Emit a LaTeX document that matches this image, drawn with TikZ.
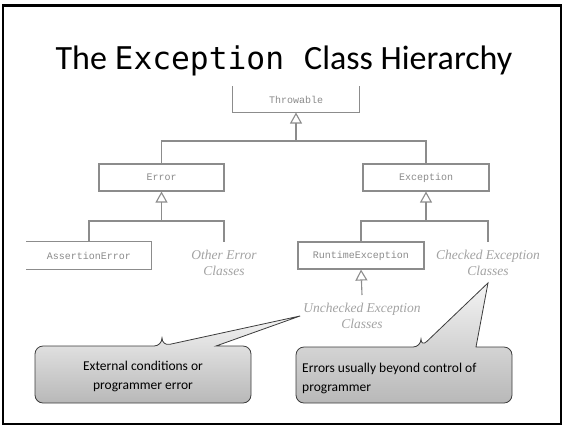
\documentclass[tikz,border=0pt]{standalone}
\usepackage{fontspec}
\setmainfont{Carlito}
\newfontfamily\codefont[Scale=0.92]{DejaVu Sans Mono}
\newfontfamily\labelfont{Liberation Mono}
\newfontfamily\classfont{Liberation Serif}
\usetikzlibrary{arrows.meta}

\begin{document}
\begin{tikzpicture}[x=1pt, y=-1pt,
  classbox/.style={draw=linegray, line width=1.1pt, minimum width=126pt, minimum height=27pt, inner sep=0pt, text=labelgray, font=\labelfont\fontsize{10}{12}\selectfont},
  openbox/.style={classbox, draw=none},
  groupname/.style={align=center, inner xsep=2pt, inner ysep=8pt, text=namegray, font=\classfont\itshape\fontsize{13.5}{16}\selectfont},
  tree/.style={draw=linegray, line width=1.1pt},
  inherit/.style={tree, -{Triangle[open, length=11pt, width=12pt, line width=1.1pt]}},
  note/.style={draw=notegray, line width=0.8pt, top color=notetop, bottom color=notebottom},
  notetext/.style={font=\fontsize{13.5}{19}\selectfont, inner sep=0pt}]
\definecolor{linegray}{HTML}{8C8C8C}
\definecolor{labelgray}{HTML}{8A8A8A}
\definecolor{namegray}{HTML}{A2A2A2}
\definecolor{notegray}{HTML}{3C3C3C}
\definecolor{notetop}{HTML}{F4F4F4}
\definecolor{notebottom}{HTML}{B8B8B8}
\useasboundingbox (0,0) rectangle (564,429);
\draw[line width=2.5pt] (3,5.5) rectangle (561,424);
\node[anchor=base, inner sep=0pt, font=\fontsize{34}{40}\selectfont] (title) at (284,69) {The {\codefont Exception}\hspace{20pt}Class Hierarchy};

\node[openbox, minimum height=25pt] (throwable) at (296,99.5) {Throwable};
\draw[tree] (throwable.north west) |- (throwable.south east) -- (throwable.north east);
\node[classbox, minimum width=125pt] (error) at (161.5,177.5) {Error};
\node[classbox] (exception) at (426,177.5) {Exception};
\node[openbox, minimum width=124pt] (assert) at (89,255.5) {AssertionError};
\draw[tree] (assert.north west) -| (assert.south east) -- (assert.south west);
\node[groupname, anchor=north] (othererr) at (224,242) {Other Error\\Classes};
\node[classbox] (runtime) at (361,255.5) {RuntimeException};
\node[groupname, anchor=north] (checked) at (488,242) {Checked Exception\\Classes};
\node[groupname, anchor=north] (unchecked) at (362,295) {Unchecked Exception\\Classes};

\coordinate (throwsplit) at (throwable.south |- 0,141);
\draw[inherit] (throwsplit) -- (throwable.south);
\draw[tree] (error.north) |- (throwsplit) -| (exception.north);
\coordinate (errsplit) at (error.south |- 0,221);
\draw[inherit] (errsplit) -- (error.south);
\draw[tree] (assert.north) |- (errsplit) -| (othererr.north);
\coordinate (excsplit) at (exception.south |- 0,221);
\draw[inherit] (excsplit) -- (exception.south);
\draw[tree] (runtime.north) |- (excsplit) -| (checked.north);
\draw[inherit] (unchecked.north) -- (runtime.south);

\coordinate (uncheckedtip) at ([xshift=-1pt]unchecked.west);
\coordinate (checkedtip) at ([yshift=1pt]checked.south);
\path[note] (162,346) -- (uncheckedtip) -- (216,346) [rounded corners=8pt] -- (251,346) -- (251,403) -- (35,403) -- (35,346) -- (162,346) -- cycle;
\path[note] (421,347) -- (checkedtip) -- (476,347) [rounded corners=8pt] -- (512,347) -- (512,403) -- (296,403) -- (296,347) -- (421,347) -- cycle;
\node[notetext, align=center] (extnote) at (143,376) {External conditions or\\programmer error};
\node[notetext, align=left, anchor=west] (errnote) at (302,378) {Errors usually beyond control of\\programmer};
\end{tikzpicture}
\end{document}
